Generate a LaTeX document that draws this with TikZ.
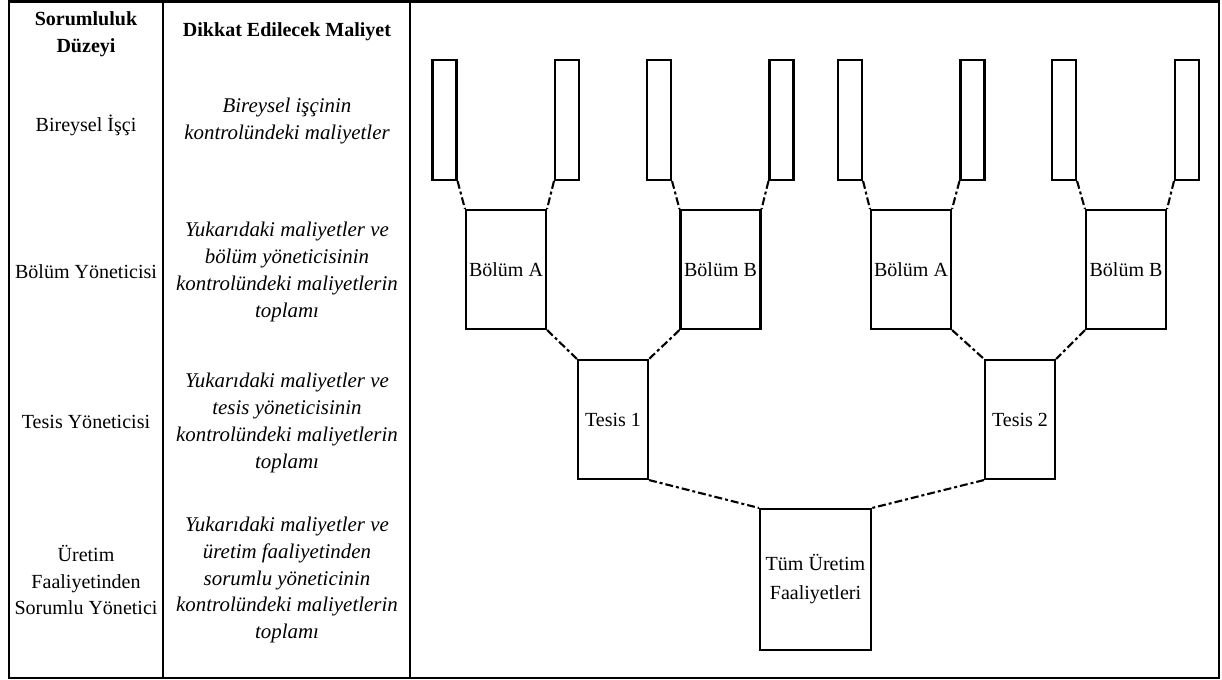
\documentclass[tikz,border=0pt]{standalone}
\usepackage{fontspec}
\setmainfont{Liberation Serif}
\usetikzlibrary{positioning}
\tikzset{every picture/.style={
    every path/.style={line width=1.2pt},
}}
\tikzset{
    worker/.style={draw, minimum width=0.48cm, minimum height=2.4cm, inner sep=0pt},
    dept/.style={draw, minimum width=1.6cm, minimum height=2.38cm, inner sep=0pt,
        font=\fontsize{11.4}{15.3}\selectfont},
    plant/.style={draw, minimum width=1.4cm, minimum height=2.38cm, inner sep=0pt,
        font=\fontsize{11.4}{15.3}\selectfont},
    allprod/.style={draw, minimum width=2.22cm, minimum height=2.82cm, inner sep=0pt,
        align=center, font=\fontsize{11.4}{16.5}\selectfont},
    level/.style={align=center, inner sep=0pt, font=\fontsize{11.4}{15.3}\selectfont},
    cost/.style={align=center, inner sep=0pt, font=\fontsize{11.9}{15.3}\selectfont\itshape},
    head/.style={align=center, inner sep=0pt, font=\fontsize{11.4}{15.3}\selectfont\bfseries},
    link/.style={dash pattern=on 4.5pt off 1.7pt on 1.7pt off 1.7pt},
}

\begin{document}
\begin{tikzpicture}[x=0.02cm, y=-0.02cm]
    \useasboundingbox (0,0) rectangle (1222,679);
    % frame and columns
    \draw (9,1.5) rectangle (1219,678);
    \draw[line width=1.6pt] (163,1.5) -- (163,678);
    \draw[line width=1.6pt] (410,1.5) -- (410,678);
    % table text
    \node[head] (head1) at (86,34) {Sorumluluk\\Düzeyi};
    \node[head] (head2) at (287,32) {Dikkat Edilecek Maliyet};
    \node[level] (lvl1) at (86,125) {Bireysel İşçi};
    \node[cost] (cost1) at (287,121) {Bireysel işçinin\\kontrolündeki maliyetler};
    \node[level] (lvl2) at (86,272) {Bölüm Yöneticisi};
    \node[cost] (cost2) at (287,272) {Yukarıdaki maliyetler ve\\bölüm yöneticisinin\\kontrolündeki maliyetlerin\\toplamı};
    \node[level] (lvl3) at (86,422) {Tesis Yöneticisi};
    \node[cost] (cost3) at (287,423) {Yukarıdaki maliyetler ve\\tesis yöneticisinin\\kontrolündeki maliyetlerin\\toplamı};
    \node[level] (lvl4) at (86,580) {Üretim\\Faaliyetinden\\Sorumlu Yönetici};
    \node[cost] (cost4) at (287,580) {Yukarıdaki maliyetler ve\\üretim faaliyetinden\\sorumlu yöneticinin\\kontrolündeki maliyetlerin\\toplamı};
    % workers
    \node[worker] (w1) at (444.5,120) {};
    \node[worker] (w2) at (567,120) {};
    \node[worker] (w3) at (659,120) {};
    \node[worker] (w4) at (781.5,120) {};
    \node[worker] (w5) at (850,120) {};
    \node[worker] (w6) at (972.5,120) {};
    \node[worker] (w7) at (1064,120) {};
    \node[worker] (w8) at (1187,120) {};
    % departments
    \node[dept] (ba1) at (506,269.5) {Bölüm A};
    \node[dept] (bb1) at (720.5,269.5) {Bölüm B};
    \node[dept] (ba2) at (911,269.5) {Bölüm A};
    \node[dept] (bb2) at (1126,269.5) {Bölüm B};
    % plants
    \node[plant] (t1) at (613,419.5) {Tesis 1};
    \node[plant] (t2) at (1020,419.5) {Tesis 2};
    % all production
    \node[allprod] (tum) at (815.5,579.5) {Tüm Üretim\\Faaliyetleri};
    % links
    \draw[link] (w1.south east) -- (ba1.north west);
    \draw[link] (w2.south west) -- (ba1.north east);
    \draw[link] (w3.south east) -- (bb1.north west);
    \draw[link] (w4.south west) -- (bb1.north east);
    \draw[link] (w5.south east) -- (ba2.north west);
    \draw[link] (w6.south west) -- (ba2.north east);
    \draw[link] (w7.south east) -- (bb2.north west);
    \draw[link] (w8.south west) -- (bb2.north east);
    \draw[link] (ba1.south east) -- (t1.north west);
    \draw[link] (bb1.south west) -- (t1.north east);
    \draw[link] (ba2.south east) -- (t2.north west);
    \draw[link] (bb2.south west) -- (t2.north east);
    \draw[link] (t1.south east) -- (tum.north west);
    \draw[link] (t2.south west) -- (tum.north east);
\end{tikzpicture}
\end{document}
